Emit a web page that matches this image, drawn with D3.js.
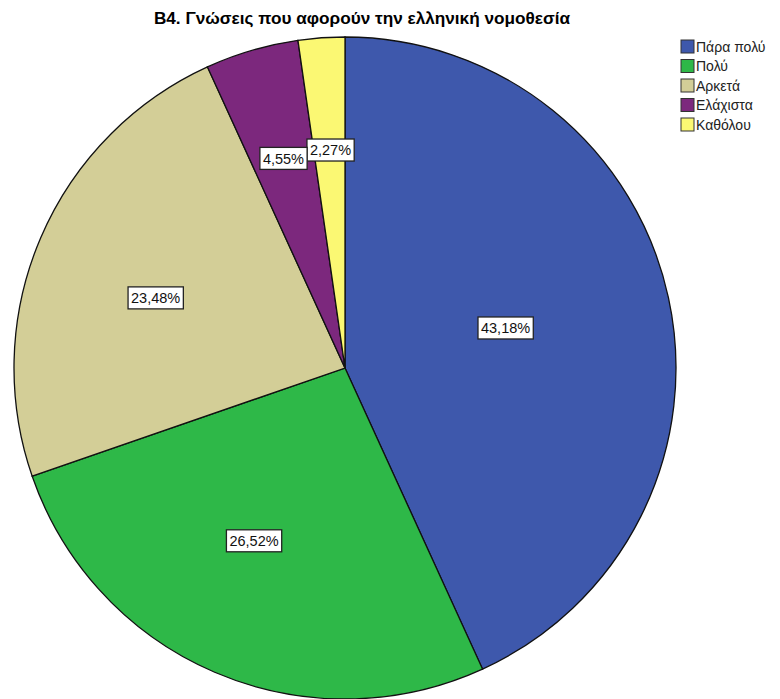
<!DOCTYPE html>
<html>
<head>
<meta charset="utf-8">
<script src="https://cdn.jsdelivr.net/npm/d3@7"></script>
<style>
  body { margin: 0; background: #fff; }
  svg { display: block; }
  text { font-family: Arial, "Liberation Sans", sans-serif; }
</style>
</head>
<body>
<svg id="chart" width="780" height="699"></svg>
<script>
// Responses: knowledge of Greek legislation (percent of respondents)
const categories = ["Πάρα πολύ", "Πολύ", "Αρκετά", "Ελάχιστα", "Καθόλου"];
const percents = [43.18, 26.52, 23.48, 4.55, 2.27];
const valueLabels = ["43,18%", "26,52%", "23,48%", "4,55%", "2,27%"];
const colors = ["#3e58ac", "#2eb848", "#d3ce97", "#7c287d", "#fbf873"];
const title = "B4. Γνώσεις που αφορούν την ελληνική νομοθεσία";

// layout
const cx = 345, cy = 368, R = 331;
// distance of each value label from the centre, as a fraction of the radius
const labelFrac = [0.5, 0.59, 0.61, 0.66, 0.66];
const labelAngleShift = [-0.03, 0.08, -0.05, 0, 0.005];

const svg = d3.select("#chart");

svg.append("text")
  .attr("x", 362).attr("y", 24)
  .attr("text-anchor", "middle")
  .attr("font-size", 17.2).attr("font-weight", "bold")
  .attr("fill", "#000")
  .text(title);

const data = categories.map((c, i) => ({ cat: c, value: percents[i], label: valueLabels[i], color: colors[i], i }));

const pie = d3.pie().value(d => d.value).sort(null);
const arcs = pie(data);
const arc = d3.arc().innerRadius(0).outerRadius(R);

const g = svg.append("g").attr("transform", `translate(${cx},${cy})`);

g.selectAll("path.slice")
  .data(arcs)
  .join("path")
  .attr("class", "slice")
  .attr("d", arc)
  .attr("fill", d => d.data.color)
  .attr("stroke", "#111")
  .attr("stroke-width", 1.3);

// value labels in white boxes; drawn last-to-first so earlier slices' boxes sit on top
const lab = g.selectAll("g.lab")
  .data(arcs.slice().reverse())
  .join("g")
  .attr("class", "lab")
  .attr("transform", d => {
    const a = (d.startAngle + d.endAngle) / 2 + labelAngleShift[d.index];
    const r = R * labelFrac[d.index];
    return `translate(${r * Math.sin(a)},${-r * Math.cos(a)})`;
  });

lab.append("text")
  .attr("text-anchor", "middle")
  .attr("dy", "0.36em")
  .attr("font-size", 14.5)
  .attr("fill", "#111")
  .text(d => d.data.label);

lab.each(function () {
  const t = d3.select(this).select("text");
  const bb = t.node().getBBox();
  d3.select(this).insert("rect", "text")
    .attr("x", bb.x - 3).attr("y", -11)
    .attr("width", bb.width + 6).attr("height", 22)
    .attr("fill", "#fff")
    .attr("stroke", "#222")
    .attr("stroke-width", 1.3);
});

// legend
const legend = svg.append("g").attr("transform", "translate(681,40)");
const rowH = 19.5;
const items = legend.selectAll("g")
  .data(data)
  .join("g")
  .attr("transform", (d, i) => `translate(0,${i * rowH})`);
items.append("rect")
  .attr("width", 13).attr("height", 13)
  .attr("fill", d => d.color)
  .attr("stroke", "#333").attr("stroke-width", 1);
items.append("text")
  .attr("x", 15).attr("y", 11.5)
  .attr("font-size", 14)
  .attr("fill", "#222")
  .text(d => d.cat);
</script>
</body>
</html>
